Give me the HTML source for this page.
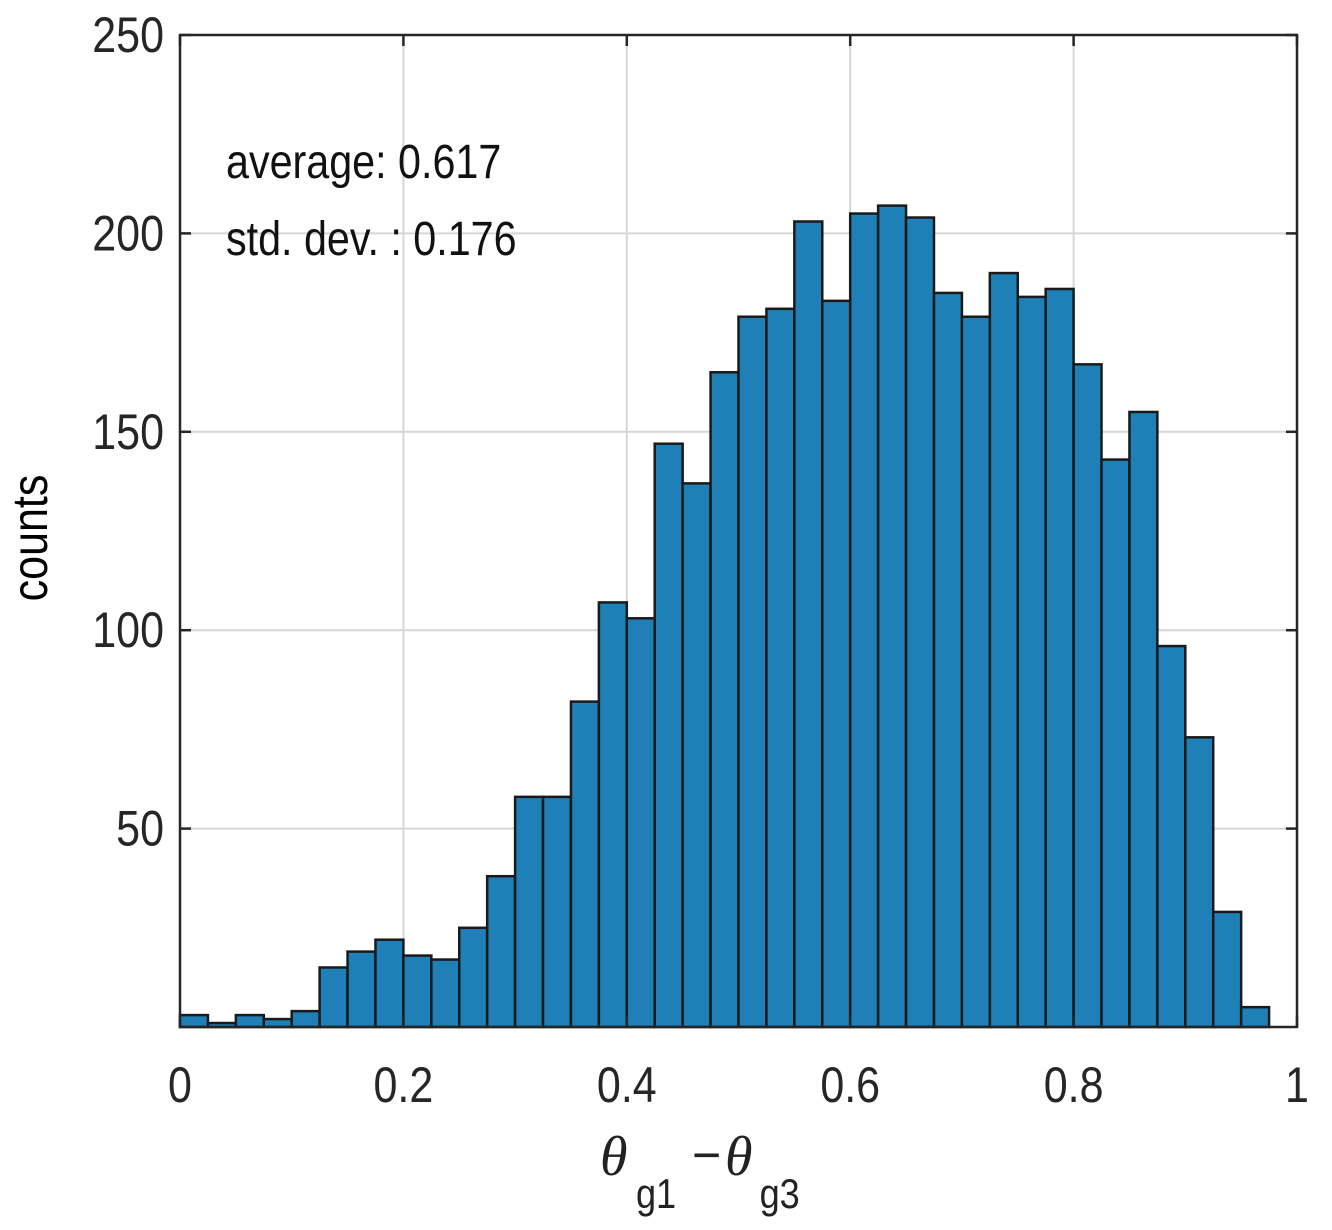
<!DOCTYPE html>
<html><head><meta charset="utf-8"><style>
html,body{margin:0;padding:0;background:#fff;}
svg{display:block;font-family:"Liberation Sans",Arial,sans-serif;}
</style></head><body>
<svg id="chart" width="1332" height="1230" viewBox="0 0 1332 1230" xmlns="http://www.w3.org/2000/svg">
<g id="grid"></g>
<g id="bars"></g>
<g id="axes"></g>
<g font-size="48" fill="#111">
<text transform="translate(226,178) scale(0.86,1)">average: 0.617</text>
<text transform="translate(226,255) scale(0.86,1)">std. dev. : 0.176</text>
</g>
<text font-size="50" fill="#000" text-anchor="middle" transform="translate(47,538) rotate(-90) scale(0.86,1)">counts</text>
<g fill="#222">
<text font-family="Liberation Serif,serif" font-style="italic" font-size="56" x="600" y="1175">θ</text>
<text font-size="42" x="636" y="1208" transform="translate(89,0) scale(0.86,1)">g1</text>
<text font-size="50" x="692" y="1172">−</text>
<text font-family="Liberation Serif,serif" font-style="italic" font-size="56" x="725" y="1175">θ</text>
<text font-size="42" x="760" y="1208" transform="translate(106,0) scale(0.86,1)">g3</text>
</g>
</svg>
<script>
const binStart = 0;
const binWidth = 0.025;
const counts = [3,1,3,2,4,15,19,22,18,17,25,38,58,58,82,107,103,147,137,165,179,181,203,183,205,207,204,185,179,190,184,186,167,143,155,96,73,29,5];
const xTicks = [0,0.2,0.4,0.6,0.8,1];
const xTickLabels = ["0","0.2","0.4","0.6","0.8","1"];
const yTicks = [50,100,150,200,250];
const yTickLabels = ["50","100","150","200","250"];

const L=180,R=1297,T=35,B=1027;
const xs=v=>L+(R-L)*v;
const ys=v=>B-(B-T)*v/250;
const NS="http://www.w3.org/2000/svg";
function mk(tag,attrs,parent){const e=document.createElementNS(NS,tag);for(const k in attrs)e.setAttribute(k,attrs[k]);parent.appendChild(e);return e;}
const grid=document.getElementById('grid'),bars=document.getElementById('bars'),axes=document.getElementById('axes');
xTicks.forEach((t,i)=>{
  if(t>0&&t<1){const g=mk('line',{x1:xs(t),x2:xs(t),y1:T,y2:B,stroke:'#d6d6d6','stroke-width':2},grid);
  }
});
yTicks.forEach(t=>{
  if(t<250){const g=mk('line',{x1:L,x2:R,y1:ys(t),y2:ys(t),stroke:'#d6d6d6','stroke-width':2},grid);
  }
});
counts.forEach((c,i)=>{
  const x0=xs(binStart+i*binWidth),x1=xs(binStart+(i+1)*binWidth);
  const r=mk('rect',{x:x0,y:ys(c),width:x1-x0,height:B-ys(c),fill:'#1f80b8',stroke:'#1a1a1a','stroke-width':2.5},bars);
  
  
});
const box=mk('rect',{x:L,y:T,width:R-L,height:B-T,fill:'none',stroke:'#262626','stroke-width':2.5},axes);

xTicks.forEach((t,i)=>{
  mk('line',{x1:xs(t),x2:xs(t),y1:B,y2:B-11,stroke:'#262626','stroke-width':2.5},axes);
  mk('line',{x1:xs(t),x2:xs(t),y1:T,y2:T+11,stroke:'#262626','stroke-width':2.5},axes);
  const tx=mk('text',{transform:`translate(${xs(t)},1102) scale(0.86,1)`,'text-anchor':'middle','font-size':50,fill:'#262626'},axes);
  tx.textContent=xTickLabels[i];
  
});
yTicks.forEach((t,i)=>{
  mk('line',{x1:L,x2:L+11,y1:ys(t),y2:ys(t),stroke:'#262626','stroke-width':2.5},axes);
  mk('line',{x1:R,x2:R-11,y1:ys(t),y2:ys(t),stroke:'#262626','stroke-width':2.5},axes);
  const tx=mk('text',{transform:`translate(164,${ys(t)+17}) scale(0.86,1)`,'text-anchor':'end','font-size':50,fill:'#262626'},axes);
  tx.textContent=yTickLabels[i];
  
});
</script>
</body></html>
